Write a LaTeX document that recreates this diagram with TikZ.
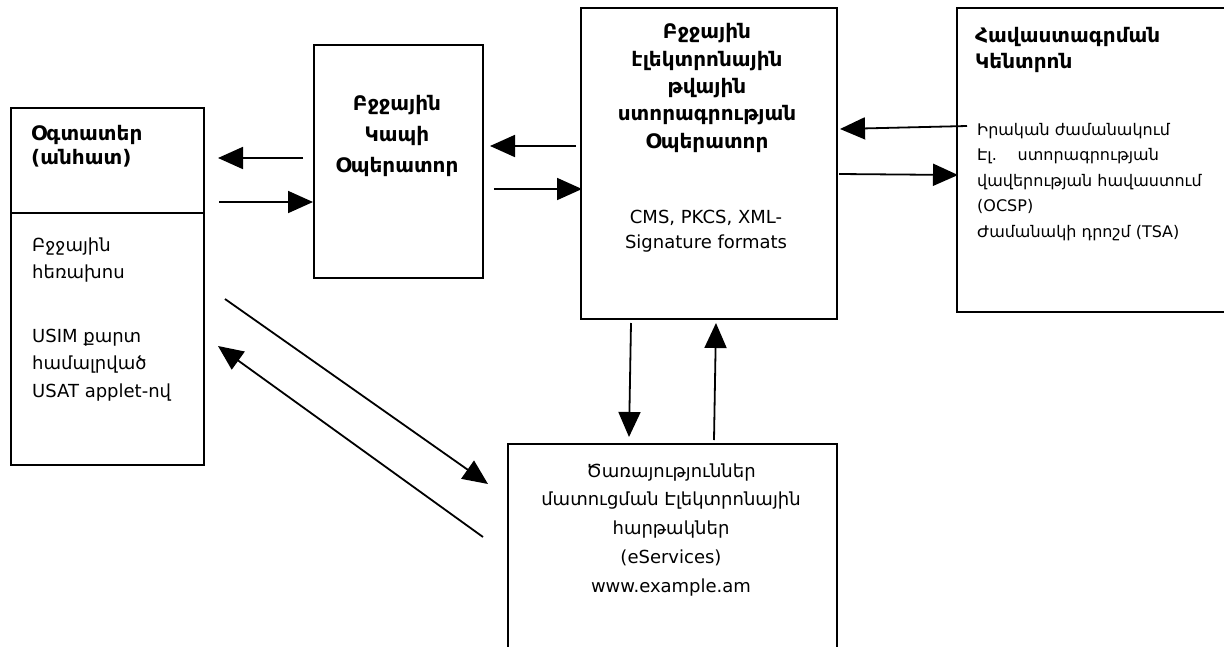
\documentclass[tikz,border=0pt]{standalone}
\usepackage{fontspec}
\setmainfont{DejaVu Sans}
\usetikzlibrary{arrows.meta}

\tikzset{
    box/.style={draw, line width=1.8pt, anchor=north west, inner sep=0pt},
    txt/.style={inner sep=0pt, anchor=base west, align=left},
    ctxt/.style={inner sep=0pt, anchor=base, align=center},
    link/.style={line width=1.8pt, -{Triangle[length=25pt,width=22pt]}},
}
\newcommand{\fsz}[1]{\fontsize{18}{#1}\selectfont}
\newcommand{\bsz}[1]{\fontsize{20}{#1}\selectfont\bfseries}

\begin{document}
\begin{tikzpicture}[x=1pt, y=-1pt]
    \useasboundingbox (0,0) rectangle (1224,646);
    \clip (0,0) rectangle (1224,646);
    %
    \node[box, minimum width=193pt, minimum height=357pt] (user) at (10,107) {};
    \node[box, minimum width=169pt, minimum height=233pt] (mob)  at (313,44) {};
    \node[box, minimum width=256pt, minimum height=311pt] (sig)  at (580,7) {};
    \node[box, minimum width=300pt, minimum height=304pt] (ca)   at (956,7) {};
    \node[box, minimum width=329pt, minimum height=240pt] (esv)  at (507,443) {};
    \draw[line width=1.8pt] ([shift={(0,106)}]user.north west) coordinate (usplit) -- (usplit -| user.east);
    %
    % base = last line
    \node[txt, font=\bsz{24.5}] (userhead) at (31,164.5) {Օգտատեր\\(անհատ)};
    \node[txt, font=\fsz{27}] (userphone) at (32,278) {Բջջային\\հեռախոս};
    \node[txt, font=\fsz{27.5}] (usersim) at (32,397) {USIM քարտ\\համալրված\\USAT applet-ով};
    \node[ctxt, font=\bsz{31}] (mobtext) at (397,172) {Բջջային\\Կապի\\Օպերատոր};
    \node[ctxt, font=\bsz{27.3}] (sigtext) at (707,148) {Բջջային\\էլեկտրոնային\\թվային\\ստորագրության\\Օպերատոր};
    \node[ctxt, font=\fsz{25.5}] (sigfmt) at (706,248.5) {CMS, PKCS, XML-\\Signature formats};
    \node[txt, font=\bsz{26}] (cahead) at (975,68) {Հավաստագրման\\Կենտրոն};
    \node[txt, font=\fontsize{16}{25.5}\selectfont] (catext) at (977,237) {Իրական ժամանակում\\Էլ.\hspace{1.3em}ստորագրության\\վավերության հավաստում\\(OCSP)\\Ժամանակի դրոշմ (TSA)};
    \node[ctxt, font=\fsz{28.75}] (esvtext) at (671,592) {Ծառայություններ\\մատուցման Էլեկտրոնային\\հարթակներ\\(eServices)\\www.example.am};
    %
    \draw[link] ([shift={(-10,114)}]mob.north west) -- ([shift={(208,51)}]user.north west);
    \draw[link] ([shift={(209,95)}]user.north west) -- ([shift={(0,158)}]mob.north west);
    \draw[link] ([shift={(-4,139)}]sig.north west) -- ([shift={(177,102)}]mob.north west);
    \draw[link] ([shift={(10,145)}]mob.north east) -- ([shift={(2,182)}]sig.north west);
    \draw[link] ([shift={(11,119)}]ca.north west) -- ([shift={(260,122)}]sig.north west);
    \draw[link] ([shift={(259,167)}]sig.north west) -- ([shift={(2,168)}]ca.north west);
    \draw[link] ([shift={(215,192)}]user.north west) -- ([shift={(-19,41)}]esv.north west);
    \draw[link] ([shift={(-24,94)}]esv.north west) -- ([shift={(208,239)}]user.north west);
    \draw[link] ([shift={(51,316)}]sig.north west) -- ([shift={(122,-6)}]esv.north west);
    \draw[link] ([shift={(207,-3)}]esv.north west) -- ([shift={(136,316)}]sig.north west);
\end{tikzpicture}
\end{document}
